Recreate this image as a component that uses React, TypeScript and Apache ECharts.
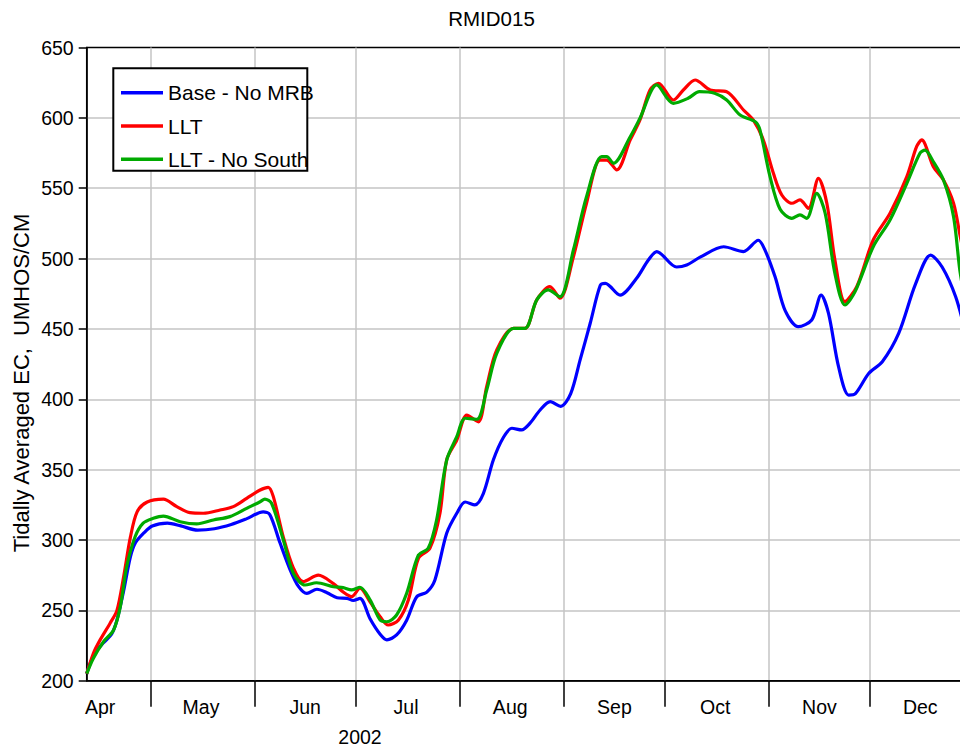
import React, { useEffect, useRef } from "react";
import * as echarts from "echarts";

// x = days since 1 Apr 2002
const MONTH_NAMES = ["Apr", "May", "Jun", "Jul", "Aug", "Sep", "Oct", "Nov", "Dec"];
const MONTH_MIDS = [15, 45, 76, 106, 137, 168, 198, 229, 259];
const MONTH_STARTS = [30, 61, 91, 122, 153, 183, 214, 244];
const YEAR_LABEL = "2002";
const TITLE = "RMID015";
const Y_NAME = "Tidally Averaged EC,  UMHOS/CM";
const SERIES_NAMES = ["Base - No MRB", "LLT", "LLT - No South"];
const SERIES_COLORS = ["#0000ff", "#ff0000", "#00aa00"];

const baseData = [
  [11, 205], [12, 212], [13.5, 220], [16, 227], [18.4, 233], [20, 243], [22, 264], [24, 288], [25.5, 298],
  [28, 305], [30.5, 310], [35, 312], [39, 310], [44, 307], [49, 308], [54, 311], [58.5, 315], [63.5, 320],
  [65.5, 318], [68.5, 298], [71.5, 279], [74, 267], [76.5, 262], [79.5, 265], [82.5, 262.5], [85.5, 259],
  [88.5, 258.5], [90.3, 257], [92.3, 258.5], [95.3, 244], [98.3, 233], [100.3, 229], [103.2, 232.5],
  [106.2, 243], [109.2, 259.7], [112.2, 263], [114.6, 271.6], [118.1, 304.8], [121.1, 319], [123.6, 327],
  [126.5, 325], [129, 333], [132, 357], [135, 373], [137.5, 379.4], [140.4, 378.2], [142.9, 383],
  [145.9, 392.4], [148.9, 398.3], [152, 395], [155, 404], [157.8, 428], [160.8, 454], [163.8, 481],
  [165.3, 482.4], [169.7, 474], [174.6, 486], [178.1, 499], [180.6, 505], [186.5, 494], [189.5, 495.4],
  [193.5, 501], [200.5, 508.4], [206.4, 505], [210.8, 513], [212.8, 506], [215.8, 487], [218.8, 463],
  [222.7, 451.6], [226.7, 456.3], [229.5, 474], [231.7, 461], [234.7, 423], [237.7, 403], [239.7, 404],
  [243.7, 418.5], [247.7, 426.7], [252.6, 447], [257.6, 482], [262.1, 502.5], [265.5, 494], [269.5, 473],
  [272.5, 447], [274, 430],
];

const lltData = [
  [11, 205], [13, 219.5], [15, 229], [18, 241], [20, 250], [22, 274], [24, 302], [26, 320], [29, 327],
  [33.8, 329], [37.8, 323.7], [41.7, 319.4], [45.7, 319], [50.7, 321.3], [54.6, 323.7], [58.6, 329.6],
  [62.6, 335.5], [65, 337.4], [66.5, 331], [69.5, 302], [72.5, 280], [75.4, 270.4], [79.9, 275], [84.4, 269],
  [87.3, 263], [89.8, 259.7], [92.3, 265.7], [95.3, 256], [98.3, 245.5], [100.7, 239.6], [103.7, 243],
  [106.7, 257.4], [109.7, 287], [113.1, 294], [116.1, 319], [118.1, 357], [121.1, 371], [124.1, 388.8],
  [127.5, 384], [130, 409], [133, 435], [138, 450.4], [141.4, 450.4], [144.9, 470.6], [148.8, 480],
  [151.8, 471.8], [155.8, 501.3], [159.7, 539.3], [163.7, 570], [165.7, 570], [168.7, 563], [172.7, 584.3],
  [175.6, 598.5], [178.6, 619.8], [181.1, 624.6], [185.5, 612.7], [188.5, 619.8], [192, 626.9],
  [196.5, 619.8], [201.4, 618.6], [206.4, 605.6], [209.3, 598.5], [212.3, 584.3], [215.3, 560.6],
  [217.8, 545.2], [220.8, 539.3], [223.2, 541.7], [225.7, 535.7], [228.7, 557], [231.2, 539.3],
  [233.6, 499], [236.6, 469.4], [240.1, 480], [245, 513.2], [250, 532.2], [255, 558.2], [257.9, 579.5],
  [259.4, 584.3], [262.9, 565.3], [265.9, 555.8], [268.9, 539.3], [270.9, 515.5], [274, 480],
];

const lltNoSouthData = [
  [11, 205], [13, 216], [16, 227.7], [19, 236], [21, 252.6], [22.9, 281], [25.4, 302.3], [27.8, 312],
  [30.8, 315.4], [33.8, 317], [38.8, 313], [43.7, 311.4], [48.7, 314.2], [53.6, 316.6], [58.6, 322.5],
  [62.6, 327.2], [64, 329.1], [66, 326.1], [69.5, 300], [72.5, 276.3], [76, 268], [79.4, 269.6],
  [84.4, 266.8], [87.3, 266.1], [89.8, 264.5], [92.3, 266.4], [95.3, 257.4], [98.3, 243.1], [100.3, 241.9],
  [103.2, 246.7], [106.2, 262.1], [109.7, 289.3], [112.6, 294.1], [115.1, 314.2], [118.1, 356.8],
  [121.1, 373.4], [123.6, 386.5], [127.1, 385.8], [130, 406.6], [133, 432.7], [138, 450.4], [141.4, 450.4],
  [144.9, 470.6], [148.3, 477.7], [151.8, 472.9], [155.8, 506.1], [159.7, 544], [164.2, 572.4],
  [165.7, 572.4], [167.7, 567.7], [172.7, 586.6], [175.6, 599.7], [180.6, 623.4], [185.5, 610.3],
  [189.9, 613.9], [193.3, 618.6], [197.8, 617.5], [201.4, 612.7], [205.4, 602], [209.9, 597.3],
  [211.3, 591.4], [214.3, 558.2], [217.3, 535], [220.8, 528.6], [223.2, 531], [225.2, 528.6],
  [228.2, 546.4], [230.7, 532.2], [233.6, 489.5], [236.6, 467], [239.6, 476.5], [245, 508.4], [250, 527.4],
  [255, 553.5], [258.9, 574.8], [260.4, 577.1], [262.9, 568.8], [265.9, 555.8], [268.9, 529.8],
  [270.9, 489.5], [274, 450],
];

const X_MIN = 11;
const X_MAX = 274;
const Y_MIN = 200;
const Y_MAX = 650;
const Y_STEP = 50;

const FONT = "'Liberation Sans', Arial, sans-serif";

export default function App() {
  const ref = useRef<HTMLDivElement>(null);
  useEffect(() => {
    if (!ref.current) return;
    const chart = echarts.init(ref.current, undefined, { renderer: "svg" });
    const seriesData = [baseData, lltData, lltNoSouthData];
    chart.setOption({
      animation: false,
      backgroundColor: "#ffffff",
      grid: {
        left: 86.7,
        right: 1.3,
        top: 47.5,
        bottom: 68.3,
        show: true,
        borderColor: "#000",
        borderWidth: 1.5,
      },
      legend: {
        orient: "vertical",
        left: 121,
        top: 82.2,
        padding: 0,
        itemGap: 12.3,
        itemWidth: 42,
        itemHeight: 3.5,
        icon: "rect",
        selectedMode: false,
        z: 6,
        textStyle: { fontFamily: FONT, fontSize: 21, color: "#000" },
        data: SERIES_NAMES,
      },
      xAxis: {
        type: "value",
        min: X_MIN,
        max: X_MAX,
        axisLine: { show: true, lineStyle: { color: "#000", width: 1.5 } },
        axisTick: {
          show: true,
          customValues: MONTH_STARTS,
          length: 26,
          lineStyle: { color: "#000", width: 1.5 },
        },
        axisLabel: {
          customValues: MONTH_MIDS,
          formatter: (v: number) => {
            const i = MONTH_MIDS.indexOf(Math.round(v));
            return i >= 0 ? MONTH_NAMES[i] : "";
          },
          fontFamily: FONT,
          fontSize: 19.5,
          color: "#000",
          margin: 16,
        },
        splitLine: { show: true, lineStyle: { color: "#c4c4c4", width: 1.5 } },
      },
      yAxis: {
        type: "value",
        min: Y_MIN,
        max: Y_MAX,
        interval: Y_STEP,
        axisLine: { show: true, lineStyle: { color: "#000", width: 1.5 } },
        axisTick: { show: true, length: 8, lineStyle: { color: "#000", width: 1.5 } },
        axisLabel: { fontFamily: FONT, fontSize: 19.5, color: "#000", margin: 13 },
        splitLine: {
          show: true,
          showMaxLine: false,
          showMinLine: false,
          lineStyle: { color: "#c4c4c4", width: 1.5 },
        },
      },
      graphic: [
        {
          type: "rect",
          z: 3,
          shape: { x: 113.3, y: 68.3, width: 194, height: 102.4 },
          style: { fill: "#fff", stroke: "#000", lineWidth: 2 },
        },
        {
          type: "text",
          x: 491.5,
          y: 18.5,
          style: { text: TITLE, font: `20.5px ${FONT}`, fill: "#000", align: "center", verticalAlign: "middle" },
        },
        {
          type: "text",
          x: 360,
          y: 737,
          style: { text: YEAR_LABEL, font: `19.5px ${FONT}`, fill: "#000", align: "center", verticalAlign: "middle" },
        },
        {
          type: "text",
          x: 21,
          y: 383,
          rotation: Math.PI / 2,
          style: { text: Y_NAME, font: `22px ${FONT}`, fill: "#000", align: "center", verticalAlign: "middle" },
        },
      ],
      series: SERIES_NAMES.map((name, i) => ({
        name,
        type: "line",
        data: seriesData[i],
        smooth: 0.3,
        symbol: "none",
        z: 2 + i * 0.1,
        lineStyle: { color: SERIES_COLORS[i], width: 3.2 },
        itemStyle: { color: SERIES_COLORS[i] },
      })),
    });
    return () => chart.dispose();
  }, []);
  return (
    <div style={{ position: "absolute", left: 0, top: 0, width: 960, height: 749, overflow: "hidden", background: "#fff" }}>
      <div ref={ref} style={{ width: 972, height: 749 }} />
    </div>
  );
}
